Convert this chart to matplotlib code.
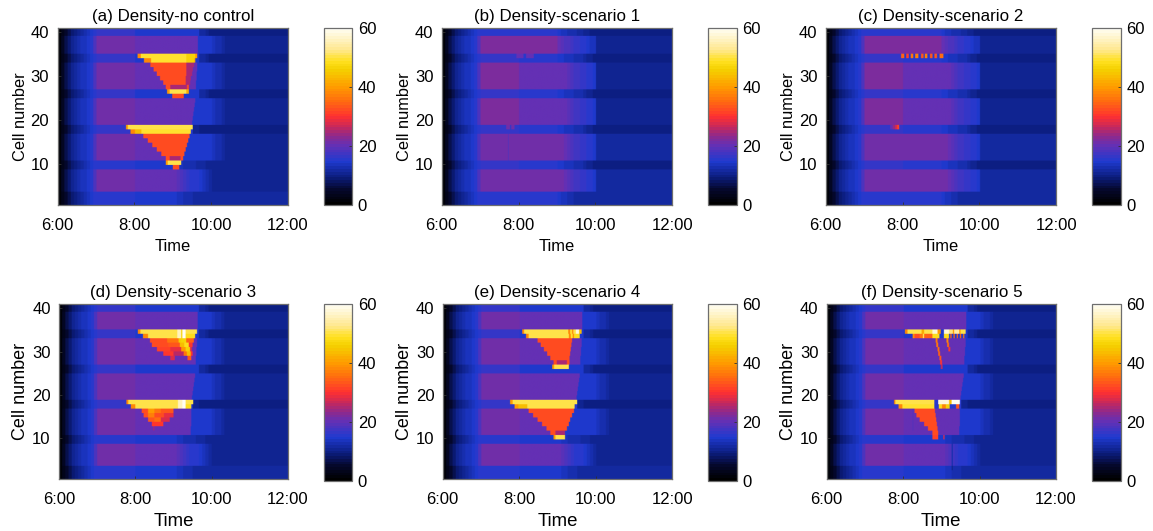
import numpy as np
import matplotlib
matplotlib.use("Agg")
import matplotlib.pyplot as plt
from matplotlib.colors import LinearSegmentedColormap

plt.rcParams['font.family'] = ['Liberation Sans', 'DejaVu Sans']

# colour map (value, colour)
cmap_values = [0, 5, 9, 14.5, 20, 23, 26, 30, 35, 40, 46, 49, 53, 60]
cmap_colors = ['#000000', '#05082e', '#0b1c7a', '#1f3ad0', '#6430b4', '#8a2a90', '#c02860',
               '#ff3030', '#ff6a10', '#ff9a00', '#f5d000', '#ffe020', '#ffe890', '#fffef5']

titles = ['(a) Density-no control', '(b) Density-scenario 1', '(c) Density-scenario 2',
          '(d) Density-scenario 3', '(e) Density-scenario 4', '(f) Density-scenario 5']
time_ticks = [6, 8, 10, 12]
time_labels = ['6:00', '8:00', '10:00', '12:00']
cell_ticks = [10, 20, 30, 40]
bar_ticks = [0, 20, 40, 60]

# density over time, one value per 5 minutes from 6:00
head_main = [1, 4, 7, 9, 10.5, 11.5, 12.5, 13.5, 14, 14.5, 15.5, 18]
head_low = [1, 3, 5, 7, 8.5, 9.5, 10.5, 11.5, 12.5, 13.5, 14.5, 15]

jam_main = head_main + [21.5] * 12 + [20] * 12 + [14.8] * 12 + [14, 13, 12.5, 12] + [11] * 20
jam_end = head_main + [21] * 12 + [20] * 13 + [19.5, 18, 17, 16, 15.5, 15, 15, 14.5, 14, 13, 12] + [11] * 24
jam_top = head_low + [16] * 12 + [14.8] * 20 + [12, 11.5, 10.5, 10] + [9.5] * 24
jam_18 = head_low + [16] * 12 + [15] * 18 + [11, 10.5, 10, 10, 9.5, 9.5] + [9.5] * 24
jam_10 = head_low + [15.5] * 12 + [14.8] * 13 + [14, 13.5, 13, 13, 12.5, 12.5, 12, 12, 11.5, 11, 11] + [10.5] * 24
jam_bot = head_low + [15] * 12 + [14.5] * 13 + [14, 14, 13, 13, 12.5, 12, 12, 12, 11.5, 11.5, 11.5] + [11.5] * 24

free_upper = head_main + [22] * 24 + [20, 19, 18.5, 18, 17, 16.5, 16, 15.5, 15, 14.5, 14, 13.5] + [11] * 24
free_mid = head_main + [22] * 12 + [20.5] * 14 + [20, 19, 18, 17.5, 17, 16.5, 16, 15.5, 15, 14.5] + [11] * 24
free_lower = head_main + [21] * 26 + [20, 19, 18, 17.5, 17, 16.5, 16, 15.5, 15, 14.5] + [11.5] * 24
free_top = head_low + [15.8] * 24 + [14.5, 14, 13.5, 13, 13, 12.5, 12, 11.5, 11, 10.5, 10, 9.5] + [9.5] * 24
free_low = head_low + [16] * 12 + [15.5] * 12 + [14.8, 14.5, 14, 14, 13.5, 13, 13, 12.5, 12, 11, 10.5, 10] + [9.5] * 24
free_bot = head_low + [15] * 24 + [14.5, 14, 13.5, 13, 12.5, 12, 12, 12, 11.5, 11.5, 11.5, 11.5] + [11.5] * 24

# (first cell, last cell) of every band along the road
bands = [(1, 3), (4, 8), (9, 10), (11, 16), (17, 18), (19, 24), (25, 26), (27, 32), (33, 34), (35, 38), (39, 40)]
jam_profiles = [jam_bot, jam_end, jam_10, jam_main, jam_18, jam_main, jam_top, jam_main, jam_top, jam_main, jam_top]
free_profiles = [free_bot, free_lower, free_low, free_lower, free_low, free_mid, free_low, free_mid, free_low, free_upper, free_top]

# congested stretches: (cell, first minute after 6:00, last minute, density)
queue_tail = [(38, 180, 218, 20), (37, 180, 218, 20), (36, 180, 218, 20), (35, 180, 218, 20),
              (32, 180, 217, 20), (31, 180, 217, 20), (30, 180, 216, 20), (29, 180, 216, 20),
              (28, 180, 215, 20), (27, 180, 215, 20),
              (24, 180, 214, 20), (23, 180, 213, 20), (22, 180, 212, 20), (21, 180, 211, 20),
              (20, 180, 210, 20), (19, 180, 209, 20)]
queue_tail_low = [(16, 180, 208, 20), (15, 180, 208, 20), (14, 180, 208, 20),
                  (13, 180, 208, 20), (12, 180, 207, 20), (11, 180, 207, 20)]

jam_a = [
    (34, 124, 129, 38), (34, 129, 200, 49.5), (34, 200, 214, 46), (34, 214, 217, 40),
    (33, 134, 145, 38), (33, 145, 200, 49.5), (33, 200, 212, 46), (33, 212, 214, 42),
    (32, 144, 200, 32), (32, 200, 212, 25), (31, 149, 200, 32), (31, 200, 210, 25),
    (30, 154, 200, 32), (30, 200, 209, 25), (29, 159, 199, 32), (29, 199, 207, 25),
    (28, 164, 199, 32), (28, 199, 206, 25),
    (27, 168, 175, 32), (27, 175, 201, 25), (27, 201, 204, 32),
    (26, 170, 174, 40), (26, 174, 200, 50), (26, 200, 204, 42), (25, 178, 196, 32),
    (18, 106, 109, 40), (18, 109, 210, 50),
    (17, 113, 120, 38), (17, 120, 130, 44), (17, 130, 207, 49),
    (16, 133, 205, 32), (15, 140, 203, 32), (14, 147, 201, 32), (13, 154, 199, 32), (12, 161, 197, 32),
    (11, 168, 174, 32), (11, 174, 191, 25), (11, 191, 195, 32),
    (10, 168, 171, 40), (10, 171, 192, 50), (9, 179, 189, 32),
]

jam_b = [(34, 116, 127, 20), (34, 131, 143, 20), (18, 100, 106, 21), (18, 108, 113, 21),
         (16, 103, 104, 18.5), (15, 103, 104, 18.5), (14, 103, 104, 18.5), (13, 103, 104, 18.5),
         (12, 103, 104, 18.5), (11, 103, 104, 18.5)]

jam_c = [(34, 117, 122, 34), (34, 125, 129, 31), (34, 132, 136, 36), (34, 139, 144, 37), (34, 148, 152, 33),
         (34, 154, 158, 37), (34, 162, 166, 33), (34, 169, 173, 33), (34, 177, 183, 35),
         (18, 100, 104, 20), (18, 104, 108, 24), (18, 108, 111, 28), (18, 111, 114, 31)]

jam_d = [
    (34, 124, 128, 38), (34, 128, 186, 50), (34, 186, 192, 56), (34, 192, 194, 46), (34, 194, 199, 60), (34, 199, 217, 50),
    (33, 132, 140, 38), (33, 140, 186, 50), (33, 186, 192, 56), (33, 192, 194, 46), (33, 194, 199, 60), (33, 199, 214, 48),
    (32, 143, 170, 32), (32, 170, 188, 36), (32, 188, 192, 45), (32, 192, 200, 46), (32, 200, 212, 34),
    (31, 146, 172, 32), (31, 172, 190, 33), (31, 190, 197, 44), (31, 197, 204, 48), (31, 204, 210, 30),
    (30, 154, 175, 31), (30, 175, 192, 29), (30, 192, 199, 40), (30, 199, 206, 46), (30, 206, 209, 28),
    (29, 164, 180, 30), (29, 180, 196, 26), (29, 196, 201, 36), (29, 201, 207, 44), (29, 207, 210, 30),
    (28, 175, 182, 28), (28, 202, 208, 33),
    (18, 106, 109, 38), (18, 109, 187, 50), (18, 187, 194, 56), (18, 194, 199, 60), (18, 199, 211, 50),
    (17, 113, 120, 38), (17, 120, 187, 50), (17, 187, 194, 56), (17, 194, 199, 60), (17, 199, 208, 48),
    (16, 130, 140, 32), (16, 140, 150, 40), (16, 150, 160, 36), (16, 160, 190, 33), (16, 190, 197, 38), (16, 197, 205, 31),
    (15, 133, 140, 32), (15, 140, 150, 37), (15, 150, 165, 32), (15, 165, 193, 29),
    (14, 140, 150, 33), (14, 150, 160, 35), (14, 160, 174, 28), (13, 146, 164, 30), (12, 148, 150, 24),
]

jam_e = [
    (34, 124, 127, 38), (34, 127, 196, 50), (34, 196, 199, 38), (34, 199, 202, 49), (34, 202, 204, 38),
    (34, 204, 208, 50), (34, 208, 213, 58), (34, 213, 217, 44),
    (33, 130, 134, 38), (33, 134, 197, 50), (33, 197, 200, 38), (33, 200, 203, 49), (33, 203, 205, 38), (33, 205, 214, 48),
    (32, 148, 202, 32), (31, 153, 201, 32), (30, 158, 200, 32), (29, 163, 199, 32), (28, 168, 198, 32),
    (27, 173, 178, 32), (27, 178, 194, 25), (27, 194, 198, 32),
    (26, 171, 174, 40), (26, 174, 197, 50),
    (18, 105, 109, 40), (18, 109, 210, 50),
    (17, 112, 118, 40), (17, 118, 132, 44), (17, 132, 206, 50),
    (16, 134, 205, 32), (15, 141, 202, 32), (14, 148, 199, 32), (13, 155, 197, 32), (12, 162, 194, 32),
    (11, 168, 176, 32), (11, 176, 191, 25), (10, 173, 176, 40), (10, 176, 191, 50),
]

jam_f = [
    (34, 122, 126, 38), (34, 126, 148, 50), (34, 148, 152, 42), (34, 152, 165, 50), (34, 165, 173, 58),
    (34, 173, 178, 40), (34, 183, 191, 58), (34, 191, 197, 52), (34, 197, 199, 40), (34, 199, 207, 54),
    (34, 207, 209, 40), (34, 209, 217, 50),
    (33, 134, 137, 38), (33, 137, 145, 32), (33, 145, 150, 36), (33, 150, 152, 50), (33, 152, 165, 34),
    (33, 165, 176, 48), (33, 183, 191, 48), (33, 193, 195, 34), (33, 198, 200, 34), (33, 203, 205, 34),
    (33, 208, 210, 34), (33, 213, 215, 36),
    (32, 170, 173, 36), (31, 171, 174, 36), (30, 173, 176, 35), (29, 174, 177, 34), (28, 176, 179, 33),
    (27, 177, 180, 30), (26, 178, 181, 26),
    (32, 187, 190, 38), (31, 188, 191, 35), (30, 190, 193, 30),
    (18, 105, 107, 38), (18, 107, 168, 50), (18, 174, 191, 58), (18, 191, 195, 44), (18, 195, 208, 60),
    (17, 112, 118, 38), (17, 118, 168, 49), (17, 175, 180, 48), (17, 180, 186, 38), (17, 186, 192, 46), (17, 202, 207, 33),
    (16, 137, 169, 32), (15, 140, 170, 32), (14, 145, 171, 32), (13, 152, 172, 32), (12, 158, 173, 32),
    (11, 165, 174, 32), (10, 165, 174, 31),
    (16, 181, 184, 38), (15, 182, 185, 34), (14, 183, 186, 30), (13, 184, 186, 26), (10, 182, 184, 28),
    (16, 195, 197, 13), (15, 195, 197, 13), (14, 195, 197, 13), (13, 195, 197, 13), (12, 195, 197, 13),
    (11, 195, 197, 13), (8, 195, 197, 13), (7, 195, 197, 13), (6, 195, 197, 13), (5, 195, 197, 13),
    (4, 195, 197, 13), (3, 195, 197, 11),
    (16, 134, 135, 18), (15, 134, 135, 18), (14, 134, 135, 18), (13, 134, 135, 18), (12, 134, 135, 18),
]

jams = [jam_a, jam_b, jam_c, jam_d + queue_tail_low, jam_e, jam_f + queue_tail_low]
uses_queue = [True, False, False, True, True, True]

# panel boxes in pixels: left, right, top, bottom and colour bar left, right, bottom
panel_px = [(57.5, 288, 27.7, 205, 324.3, 352.3, 205), (441.7, 672.3, 27.7, 205, 708.3, 736.7, 205),
            (825.7, 1056.3, 27.7, 205, 1092.3, 1120.7, 205),
            (59, 288, 303.7, 479.3, 324.3, 352.3, 481), (442.7, 672.3, 303.7, 479.3, 708.3, 736.7, 481),
            (826.7, 1056, 303.7, 479.3, 1092.3, 1120.7, 481)]

W, H = 1153, 531
cmap = LinearSegmentedColormap.from_list('density', [(v / 60, c) for v, c in zip(cmap_values, cmap_colors)], N=64)
edge = '#6e6e6e'


def build_grid(i):
    grid = np.zeros((40, 360))
    profiles = jam_profiles if uses_queue[i] else free_profiles
    for (c0, c1), prof in zip(bands, profiles):
        grid[c0 - 1:c1] = np.repeat(prof, 5)
    if uses_queue[i]:
        for cell, a, b, v in queue_tail:
            grid[cell - 1, a:b] = v
    for cell, a, b, v in jams[i]:
        grid[cell - 1, a:b] = v
    # finer rows so that the bilinear smoothing stays about one pixel wide
    return np.repeat(grid, 4, axis=0)


fig = plt.figure(figsize=(W / 100, H / 100), dpi=100)

for i in range(6):
    x0, x1, y0, y1, cx0, cx1, cy1 = panel_px[i]
    ax = fig.add_axes([x0 / W, 1 - y1 / H, (x1 - x0) / W, (y1 - y0) / H])
    im = ax.imshow(build_grid(i), origin='lower', aspect='auto', cmap=cmap, vmin=0, vmax=60,
                   extent=[6, 12, 0.6, 41], interpolation='bilinear')
    ax.set_xticks(time_ticks)
    ax.set_xticklabels(time_labels)
    ax.set_yticks(cell_ticks)
    ax.tick_params(direction='in', length=2, width=0.6, color='#303030', labelsize=12)
    ax.tick_params(axis='x', pad=9)
    ax.tick_params(axis='y', pad=6)
    for s in ax.spines.values():
        s.set_color(edge)
        s.set_linewidth(0.9)
    bottom = i >= 3
    ax.set_title(titles[i], fontsize=12.2, pad=5)
    ax.set_xlabel('Time', fontsize=13.4 if bottom else 11.9, labelpad=4.5)
    ax.set_ylabel('Cell number', fontsize=13 if bottom else 11.8, labelpad=2)

    cax = fig.add_axes([cx0 / W, 1 - cy1 / H, (cx1 - cx0) / W, (cy1 - y0) / H])
    cb = fig.colorbar(im, cax=cax, ticks=bar_ticks)
    cb.ax.tick_params(direction='in', length=2, width=0.6, color='#303030', labelsize=12, pad=4)
    cb.outline.set_edgecolor(edge)
    cb.outline.set_linewidth(0.9)

fig.savefig('out.png', dpi=100)
